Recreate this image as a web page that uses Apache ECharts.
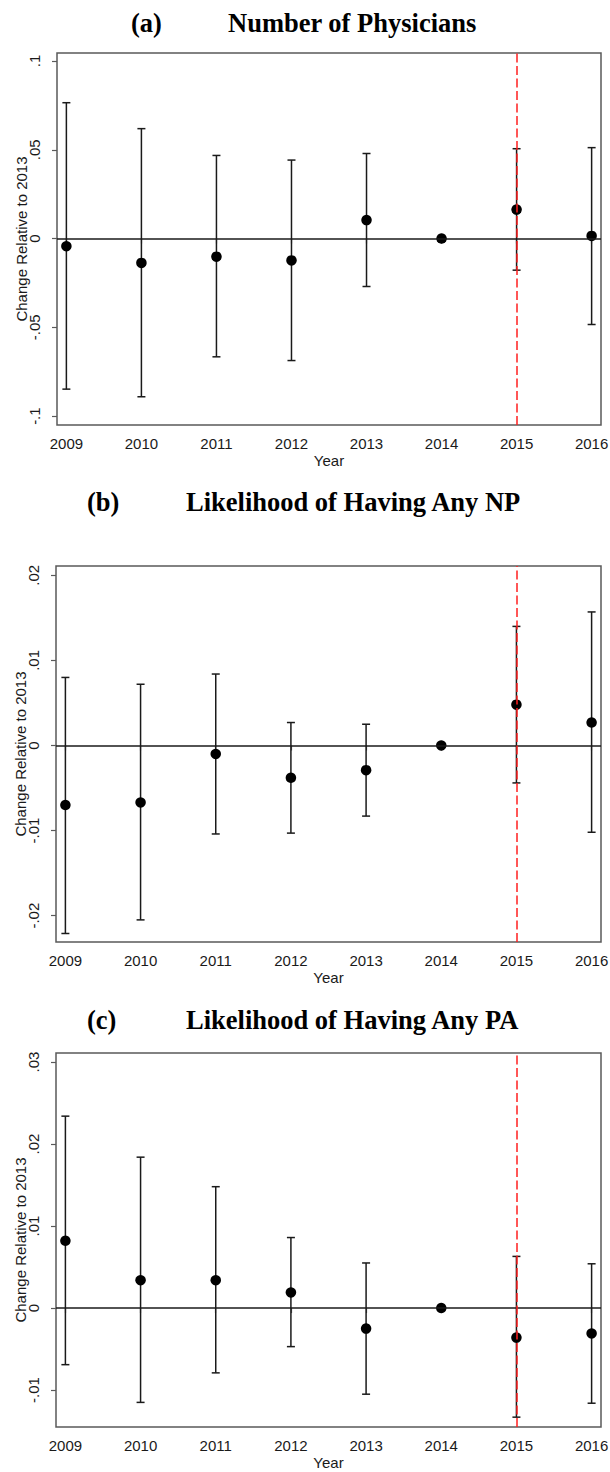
<!DOCTYPE html>
<html>
<head>
<meta charset="utf-8">
<script src="https://cdn.jsdelivr.net/npm/echarts@6/dist/echarts.min.js"></script>
<style>
  html, body { margin: 0; padding: 0; background: #fff; }
  #chart { width: 610px; height: 1472px; }
</style>
</head>
<body>
<div id="chart"></div>
<script>
// ---------------- data ----------------
const years = [2009, 2010, 2011, 2012, 2013, 2014, 2015, 2016];

const panelLetters = ['(a)', '(b)', '(c)'];
const panelTitles = ['Number of Physicians', 'Likelihood of Having Any NP', 'Likelihood of Having Any PA'];

// (a) Number of Physicians
const physEst = [-0.0043, -0.0137, -0.0102, -0.0123, 0.0104, 0, 0.0163, 0.0015];
const physLo  = [-0.0848, -0.0891, -0.0666, -0.0687, -0.0270, null, -0.0178, -0.0484];
const physHi  = [0.0765, 0.0619, 0.0468, 0.0442, 0.0479, null, 0.0506, 0.0512];
const physTicks = [-0.1, -0.05, 0, 0.05, 0.1];

// (b) Likelihood of Having Any NP
const npEst = [-0.0070, -0.0067, -0.0010, -0.0038, -0.0029, 0, 0.0048, 0.0027];
const npLo  = [-0.0221, -0.0205, -0.0104, -0.0103, -0.0083, null, -0.0044, -0.0102];
const npHi  = [0.0080, 0.0072, 0.0084, 0.0027, 0.0025, null, 0.0140, 0.0157];
const npTicks = [-0.02, -0.01, 0, 0.01, 0.02];

// (c) Likelihood of Having Any PA
const paEst = [0.0082, 0.0034, 0.0034, 0.0019, -0.0025, 0, -0.0036, -0.0031];
const paLo  = [-0.0069, -0.0115, -0.0079, -0.0047, -0.0105, null, -0.0133, -0.0116];
const paHi  = [0.0234, 0.0184, 0.0148, 0.0086, 0.0055, null, 0.0063, 0.0054];
const paTicks = [-0.01, 0, 0.01, 0.02, 0.03];

const policyYear = 2015;

// ---------------- layout ----------------
const panels = [
  { est: physEst, lo: physLo, hi: physHi, ticks: physTicks, yMin: -0.105, yMax: 0.1045,
    grid: { left: 57, top: 53, width: 544, height: 372 }, titleTop: 9, letterLeft: 131, titleLeft: 228 },
  { est: npEst, lo: npLo, hi: npHi, ticks: npTicks, yMin: -0.0231, yMax: 0.0211,
    grid: { left: 56, top: 566, width: 545, height: 376 }, titleTop: 488.75, letterLeft: 87, titleLeft: 186 },
  { est: paEst, lo: paLo, hi: paHi, ticks: paTicks, yMin: -0.0145, yMax: 0.0311,
    grid: { left: 56, top: 1053, width: 545, height: 374 }, titleTop: 1006.75, letterLeft: 87, titleLeft: 186 }
];

const sans = 'Liberation Sans, Arial, Helvetica, sans-serif';
const serif = 'Liberation Serif, Times New Roman, serif';
const frameColor = '#5a5a5a';
const inkColor = '#1a1a1a';
const titleSize = 26.5;

function stataFmt(v) {
  if (Math.abs(v) < 1e-12) return '0';
  return String(+v.toFixed(4)).replace('0.', '.');
}

function renderBars(params, api) {
  const p1 = api.coord([api.value(0), api.value(1)]);
  const p2 = api.coord([api.value(0), api.value(2)]);
  const hw = 4;
  const style = { stroke: inkColor, lineWidth: 1.5, fill: null };
  return {
    type: 'group',
    children: [
      { type: 'line', shape: { x1: p1[0], y1: p1[1], x2: p2[0], y2: p2[1] }, style: style },
      { type: 'line', shape: { x1: p1[0] - hw, y1: p1[1], x2: p1[0] + hw, y2: p1[1] }, style: style },
      { type: 'line', shape: { x1: p2[0] - hw, y1: p2[1], x2: p2[0] + hw, y2: p2[1] }, style: style }
    ]
  };
}

const titles = [], grids = [], xAxes = [], yAxes = [], series = [];

panels.forEach(function (p, i) {
  titles.push({
    text: panelLetters[i], left: p.letterLeft, top: p.titleTop, padding: 0,
    textStyle: { fontFamily: serif, fontWeight: 'bold', fontSize: titleSize, color: '#000' }
  });
  titles.push({
    text: panelTitles[i], left: p.titleLeft, top: p.titleTop, padding: 0,
    textStyle: { fontFamily: serif, fontWeight: 'bold', fontSize: titleSize, color: '#000' }
  });

  grids.push(Object.assign({
    show: true, borderColor: frameColor, borderWidth: 1.5, backgroundColor: 'transparent',
    containLabel: false, outerBoundsMode: 'none'
  }, p.grid));

  xAxes.push({
    type: 'value', gridIndex: i, min: 2008.875, max: 2016.125,
    axisLine: { show: false },
    splitLine: { show: false },
    axisTick: { show: true, customValues: years, length: 5, lineStyle: { color: frameColor, width: 1.2 } },
    axisLabel: { customValues: years, margin: 11, fontSize: 15, color: inkColor, fontFamily: sans,
                 formatter: function (v) { return String(Math.round(v)); } },
    name: 'Year', nameLocation: 'middle', nameGap: 27.5, nameMoveOverlap: false,
    nameTextStyle: { fontSize: 15, color: inkColor, fontFamily: sans }
  });

  yAxes.push({
    type: 'value', gridIndex: i, min: p.yMin, max: p.yMax,
    axisLine: { show: false },
    splitLine: { show: false },
    axisTick: { show: true, customValues: p.ticks, length: 5, lineStyle: { color: frameColor, width: 1.2 } },
    axisLabel: { customValues: p.ticks, rotate: 90, margin: 15, fontSize: 15, color: inkColor, fontFamily: sans,
                 formatter: stataFmt },
    name: 'Change Relative to 2013', nameLocation: 'middle', nameRotate: 90, nameGap: 28, nameMoveOverlap: false,
    nameTextStyle: { fontSize: 15, color: inkColor, fontFamily: sans }
  });

  // reference lines
  series.push({
    type: 'line', xAxisIndex: i, yAxisIndex: i, data: [], z: 1, silent: true,
    markLine: {
      silent: true, symbol: ['none', 'none'], animation: false, label: { show: false },
      data: [
        { yAxis: 0, lineStyle: { color: inkColor, width: 1.5, type: 'solid' } },
        { xAxis: policyYear, lineStyle: { color: '#ff1f1f', width: 1.5, type: [9, 3.5] } }
      ]
    }
  });

  // confidence intervals
  const barData = [];
  years.forEach(function (y, k) {
    if (p.lo[k] != null && p.hi[k] != null) barData.push([y, p.lo[k], p.hi[k]]);
  });
  series.push({
    type: 'custom', xAxisIndex: i, yAxisIndex: i, data: barData, z: 3, silent: true,
    renderItem: renderBars, encode: { x: 0, y: [1, 2] }
  });

  // point estimates
  series.push({
    type: 'scatter', xAxisIndex: i, yAxisIndex: i, z: 4, silent: true,
    symbol: 'circle', symbolSize: 10.5,
    itemStyle: { color: '#000', opacity: 1 },
    data: years.map(function (y, k) { return [y, p.est[k]]; })
  });
});

const chart = echarts.init(document.getElementById('chart'), null, { renderer: 'svg' });
chart.setOption({
  backgroundColor: '#fff',
  animation: false,
  title: titles,
  grid: grids,
  xAxis: xAxes,
  yAxis: yAxes,
  series: series
});
</script>
</body>
</html>
